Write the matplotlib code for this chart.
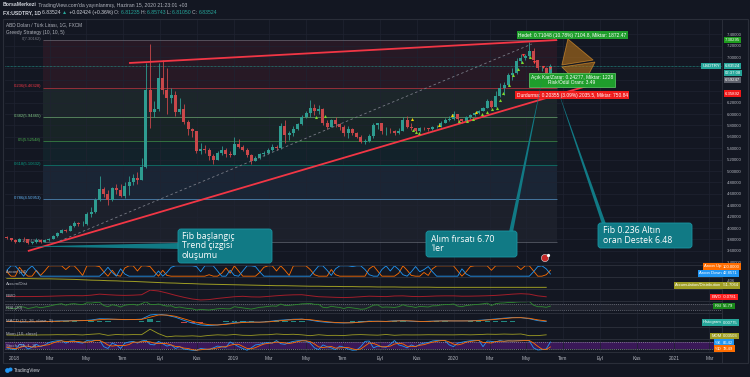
import numpy as np
import pandas as pd
import matplotlib
matplotlib.use("Agg")
import matplotlib.pyplot as plt
import matplotlib.dates as mdates
import matplotlib.transforms as mtransforms
from matplotlib.patches import Polygon, Rectangle, FancyBboxPatch, Circle

# ---------------- data ----------------
week_start = "2017-12-20"     # weekly candles (centre of each week)
open_first = 3.84
close = [3.82, 3.79, 3.76, 3.81, 3.80, 3.74, 3.76, 3.79, 3.76, 3.79,
         3.81, 3.86, 3.92, 3.97, 3.95, 4.03, 4.08, 4.07, 4.07, 4.25,
         4.28, 4.50, 4.68, 4.59, 4.50, 4.70, 4.67, 4.56, 4.74, 4.80,
         4.88, 4.84, 5.07, 6.43, 6.03, 6.08, 6.63, 6.42, 6.28, 6.33,
         6.04, 6.08, 5.86, 5.73, 5.70, 5.35, 5.39, 5.36, 5.27, 5.20,
         5.31, 5.36, 5.30, 5.28, 5.47, 5.42, 5.37, 5.28, 5.18, 5.22,
         5.30, 5.32, 5.37, 5.43, 5.40, 5.79, 5.64, 5.66, 5.74, 5.82,
         5.95, 6.02, 6.10, 6.05, 6.08, 5.84, 5.78, 5.90, 5.82, 5.78,
         5.66, 5.74, 5.67, 5.60, 5.51, 5.52, 5.61, 5.80, 5.84, 5.70,
         5.71, 5.70, 5.67, 5.71, 5.90, 5.78, 5.75, 5.70, 5.76, 5.75,
         5.73, 5.78, 5.78, 5.85, 5.90, 5.92, 6.00, 5.91, 5.88, 5.94,
         5.98, 6.02, 6.06, 6.11, 6.23, 6.13, 6.32, 6.45, 6.51, 6.69,
         6.72, 6.93, 6.99, 7.02, 7.11, 6.95, 6.80, 6.80, 6.72, 6.835]
high = [3.86, 3.83, 3.80, 3.82, 3.84, 3.81, 3.78, 3.82, 3.80, 3.80,
        3.82, 3.88, 3.93, 3.98, 3.99, 4.06, 4.12, 4.11, 4.12, 4.28,
        4.36, 4.52, 4.92, 4.72, 4.66, 4.72, 4.78, 4.78, 4.80, 4.92,
        4.95, 4.98, 5.22, 6.90, 7.22, 6.23, 6.90, 6.95, 6.80, 6.46,
        6.40, 6.28, 6.17, 5.90, 5.76, 5.60, 5.50, 5.45, 5.40, 5.30,
        5.35, 5.44, 5.40, 5.35, 5.60, 5.57, 5.45, 5.40, 5.30, 5.27,
        5.32, 5.35, 5.40, 5.47, 5.46, 5.84, 5.90, 5.70, 5.79, 5.85,
        5.98, 6.05, 6.24, 6.18, 6.15, 6.10, 5.90, 5.92, 5.95, 5.84,
        5.80, 5.79, 5.75, 5.68, 5.63, 5.56, 5.65, 5.85, 5.85, 5.83,
        5.77, 5.76, 5.72, 5.76, 5.94, 5.96, 5.85, 5.76, 5.78, 5.78,
        5.76, 5.79, 5.80, 5.88, 5.93, 5.96, 6.05, 5.98, 5.92, 5.96,
        6.00, 6.04, 6.07, 6.13, 6.27, 6.24, 6.40, 6.55, 6.56, 6.72,
        6.80, 6.98, 7.05, 7.06, 7.27, 7.15, 6.95, 6.84, 6.83, 6.87]
low = [3.80, 3.78, 3.74, 3.75, 3.78, 3.72, 3.72, 3.74, 3.74, 3.75,
       3.78, 3.80, 3.85, 3.91, 3.93, 3.95, 4.02, 4.03, 4.04, 4.06,
       4.20, 4.27, 4.48, 4.55, 4.40, 4.47, 4.60, 4.55, 4.53, 4.58,
       4.75, 4.77, 4.90, 5.05, 5.76, 5.95, 6.05, 6.35, 6.00, 6.20,
       5.97, 6.00, 5.82, 5.64, 5.60, 5.31, 5.30, 5.31, 5.20, 5.13,
       5.19, 5.28, 5.25, 5.24, 5.28, 5.40, 5.35, 5.25, 5.13, 5.18,
       5.21, 5.26, 5.30, 5.35, 5.36, 5.38, 5.50, 5.55, 5.62, 5.72,
       5.80, 5.93, 5.95, 5.98, 6.00, 5.80, 5.74, 5.78, 5.78, 5.72,
       5.62, 5.58, 5.63, 5.58, 5.49, 5.48, 5.51, 5.58, 5.73, 5.65,
       5.63, 5.66, 5.64, 5.65, 5.70, 5.75, 5.72, 5.68, 5.69, 5.72,
       5.70, 5.72, 5.75, 5.78, 5.84, 5.88, 5.90, 5.85, 5.85, 5.86,
       5.92, 5.96, 6.00, 6.05, 6.10, 6.10, 6.12, 6.30, 6.34, 6.50,
       6.60, 6.70, 6.90, 6.95, 6.98, 6.90, 6.78, 6.75, 6.70, 6.70]

# weekly indicators
aroon_up = [43, 0, 0, 86, 36, 0, 0, 57, 7, 50,
            100, 100, 100, 100, 64, 100, 100, 57, 7, 100,
            100, 100, 93, 43, 0, 57, 7, 0, 79, 100,
            100, 50, 100, 100, 93, 43, 0, 57, 7, 0,
            0, 0, 0, 0, 0, 0, 0, 0, 14, 0,
            0, 29, 79, 29, 100, 50, 0, 0, 0, 0,
            36, 86, 100, 100, 50, 100, 57, 7, 100, 100,
            100, 100, 64, 14, 0, 0, 0, 64, 14, 0,
            0, 0, 0, 0, 0, 0, 71, 100, 50, 0,
            0, 0, 0, 29, 100, 57, 7, 0, 0, 36,
            7, 71, 100, 100, 100, 100, 100, 50, 0, 43,
            93, 100, 100, 100, 100, 57, 100, 100, 100, 100,
            100, 100, 64, 100, 100, 50, 0, 0, 14, 57]
aroon_down = [57, 100, 100, 50, 0, 64, 100, 50, 0, 0,
              0, 0, 0, 0, 0, 0, 0, 0, 0, 0,
              0, 0, 0, 36, 86, 36, 0, 71, 21, 0,
              0, 0, 0, 0, 0, 0, 50, 0, 36, 86,
              100, 100, 100, 100, 100, 93, 43, 100, 100, 100,
              50, 0, 0, 57, 7, 0, 50, 100, 100, 93,
              43, 0, 0, 0, 0, 0, 0, 0, 0, 0,
              0, 0, 0, 50, 100, 100, 57, 7, 71, 100,
              100, 100, 93, 100, 100, 64, 14, 0, 0, 64,
              100, 50, 100, 64, 14, 0, 43, 93, 43, 64,
              93, 43, 0, 0, 0, 0, 0, 0, 71, 21,
              0, 0, 0, 0, 0, 0, 0, 0, 0, 0,
              0, 0, 0, 0, 0, 43, 93, 100, 71, 21]
rsi = [45, 40, 38, 52, 50, 40, 45, 52, 45, 50,
       55, 62, 68, 72, 62, 70, 72, 68, 66, 78,
       76, 80, 82, 60, 52, 65, 60, 50, 62, 66,
       68, 62, 72, 85, 68, 66, 70, 62, 56, 58,
       46, 50, 44, 40, 38, 30, 34, 32, 30, 34,
       38, 40, 38, 38, 52, 48, 44, 40, 36, 42,
       48, 50, 54, 57, 55, 70, 60, 61, 64, 67,
       71, 72, 74, 68, 68, 48, 45, 55, 50, 47,
       40, 48, 44, 40, 35, 37, 48, 62, 64, 48,
       50, 49, 47, 52, 65, 56, 53, 47, 54, 52,
       50, 58, 58, 64, 66, 67, 70, 56, 52, 60,
       63, 66, 68, 71, 76, 60, 72, 76, 77, 80,
       80, 83, 84, 84, 86, 62, 52, 52, 48, 56]
stoch_k = [30, 20, 15, 60, 55, 20, 35, 60, 40, 55,
           75, 85, 90, 92, 70, 88, 90, 75, 70, 92,
           88, 95, 96, 40, 25, 70, 55, 25, 70, 80,
           85, 70, 88, 95, 60, 55, 85, 65, 45, 55,
           25, 40, 20, 15, 10, 8, 25, 20, 15, 30,
           45, 40, 35, 80, 60, 40, 25, 10, 30, 55,
           60, 70, 75, 70, 92, 65, 60, 75, 85, 90,
           92, 88, 70, 30, 15, 55, 40, 30, 15, 45,
           35, 20, 10, 12, 40, 85, 88, 30, 45, 40,
           35, 60, 92, 55, 45, 30, 55, 40, 60, 70,
           75, 88, 92, 94, 90, 55, 40, 70, 78, 85,
           90, 93, 95, 40, 88, 85, 80, 92, 85, 90,
           88, 90, 92, 95, 88, 30, 12, 15, 20, 80]
stoch_d = [35, 28, 22, 32, 43, 45, 37, 38, 45, 52,
           57, 72, 83, 89, 84, 83, 83, 84, 78, 79,
           83, 92, 93, 77, 54, 45, 50, 50, 50, 58,
           78, 78, 81, 84, 81, 70, 67, 68, 65, 55,
           42, 40, 28, 25, 15, 11, 14, 18, 20, 22,
           30, 38, 40, 52, 60, 60, 42, 25, 22, 32,
           48, 62, 68, 72, 79, 76, 72, 67, 73, 83,
           89, 90, 83, 63, 38, 33, 37, 42, 28, 30,
           32, 33, 22, 14, 21, 46, 71, 68, 54, 38,
           40, 45, 62, 69, 64, 43, 43, 42, 52, 57,
           68, 78, 85, 91, 92, 80, 62, 55, 63, 78,
           84, 89, 93, 76, 74, 71, 84, 86, 86, 89,
           88, 89, 90, 92, 92, 71, 43, 19, 16, 38]

# two-weekly indicators
ewo = [0.00, -0.03, -0.02, -0.02, 0.00, 0.03, 0.08, 0.12, 0.14, 0.12,
       0.22, 0.40, 0.30, 0.22, 0.18, 0.22, 0.30, 1.10, 0.95, 0.60,
       0.20, -0.15, -0.45, -0.62, -0.55, -0.35, -0.20, -0.05, 0.02, -0.08,
       -0.10, 0.00, 0.12, 0.22, 0.28, 0.30, 0.12, -0.05, -0.10, -0.16,
       -0.20, -0.15, -0.05, 0.04, 0.00, -0.03, 0.08, 0.10, 0.00, -0.03,
       0.02, 0.08, 0.10, 0.10, 0.04, 0.05, 0.08, 0.12, 0.18, 0.28,
       0.40, 0.48, 0.40, 0.10, -0.06]
macd = [0.00, -0.01, -0.02, -0.01, 0.00, 0.01, 0.04, 0.05, 0.06, 0.06,
        0.10, 0.18, 0.17, 0.14, 0.12, 0.13, 0.16, 0.42, 0.48, 0.40,
        0.28, 0.08, -0.10, -0.22, -0.26, -0.22, -0.15, -0.07, -0.03, -0.03,
        -0.04, 0.00, 0.07, 0.11, 0.15, 0.16, 0.09, 0.00, -0.05, -0.08,
        -0.09, -0.07, -0.02, 0.03, 0.02, 0.01, 0.05, 0.06, 0.02, 0.00,
        0.02, 0.04, 0.05, 0.04, 0.04, 0.05, 0.08, 0.12, 0.17, 0.22,
        0.26, 0.25, 0.18, 0.06, 0.00]
macd_signal = [0.00, 0.00, -0.01, -0.01, -0.01, 0.00, 0.02, 0.03, 0.05, 0.06,
               0.07, 0.12, 0.15, 0.15, 0.13, 0.13, 0.14, 0.28, 0.42, 0.42,
               0.34, 0.18, 0.02, -0.12, -0.20, -0.22, -0.18, -0.11, -0.06, -0.04,
               -0.04, -0.02, 0.03, 0.08, 0.12, 0.15, 0.12, 0.05, -0.01, -0.06,
               -0.08, -0.08, -0.04, 0.00, 0.02, 0.01, 0.03, 0.05, 0.04, 0.01,
               0.01, 0.03, 0.04, 0.04, 0.04, 0.04, 0.06, 0.10, 0.14, 0.19,
               0.24, 0.25, 0.21, 0.11, 0.04]
mom = [0.00, -0.05, 0.02, -0.04, 0.03, 0.04, 0.10, 0.06, 0.12, 0.02,
       0.22, 0.38, -0.10, 0.15, 0.05, 0.12, 0.10, 1.75, 0.40, -0.55,
       -0.30, -0.35, -0.25, -0.40, -0.12, 0.05, -0.05, 0.15, -0.08, -0.12,
       0.05, 0.08, 0.30, 0.15, 0.22, 0.05, -0.20, 0.08, -0.12, -0.10,
       -0.15, 0.05, 0.12, 0.02, -0.05, 0.15, -0.08, 0.04, 0.02, 0.03,
       0.08, 0.06, 0.05, 0.04, 0.10, 0.05, 0.12, 0.25, 0.20, 0.28,
       0.22, 0.30, -0.20, -0.18, 0.05]
accdist = [-2, -3, -3, -4, -5, -5, -6, -7, -8, -10,
           -12, -13, -15, -16, -18, -19, -21, -23, -25, -27,
           -28, -30, -31, -33, -34, -35, -36, -37, -38, -39,
           -40, -41, -42, -42, -43, -44, -45, -45, -46, -46,
           -47, -47, -48, -48, -49, -49, -49, -50, -50, -50,
           -50, -51, -51, -51, -51, -51, -51, -51, -51, -51,
           -51, -51, -51, -51, -51]

# drawings on the price chart
fib_ratios = [0, 0.236, 0.382, 0.5, 0.618, 0.786, 1]
fib_prices = [7.30162, 6.46328, 5.94465, 5.52548, 5.10632, 4.50953, 3.74934]
fib_colors = ["#787b86", "#f23645", "#81c784", "#4caf50", "#089981", "#64b5f6", "#787b86"]
fib_span = ["2018-02-18", "2020-06-21"]
upper_tl = (["2018-07-11", "2020-06-21"], [6.895, 7.298])
lower_tl = (["2018-01-24", "2020-08-26"], [3.596, 6.542])
dash_tl = (["2018-03-18", "2020-05-10"], [3.772, 7.228])
tri_a = (["2020-07-09", "2020-08-20", "2020-06-29"], [7.316, 6.947, 6.86])
tri_b = (["2020-06-29", "2020-08-23", "2020-08-02"], [6.825, 6.912, 6.474])
long_dates = ["2019-05-18", "2019-06-02", "2019-10-26", "2019-10-31", "2019-11-05",
              "2020-01-10", "2020-01-23", "2020-02-03", "2020-02-17", "2020-02-25",
              "2020-03-05", "2020-03-13", "2020-03-18", "2020-03-23", "2020-04-02",
              "2020-04-09", "2020-04-17", "2020-04-24", "2020-05-07"]
long_prices = [5.95, 5.96, 5.72, 5.68, 5.67, 5.88, 5.88, 5.91, 6.00, 6.04,
               6.09, 6.11, 6.25, 6.37, 6.51, 6.68, 6.79, 6.91, 7.00]
warn_dates = ["2019-10-24", "2019-12-08", "2019-12-29", "2020-02-08"]
warn_prices = [5.91, 5.80, 5.99, 6.03]
short_dates = ["2020-04-25", "2020-05-14", "2020-05-29", "2020-06-10"]
short_prices = [7.035, 6.91, 6.82, 6.81]

price_ticks = [3.4, 3.6, 3.8, 4.0, 4.2, 4.4, 4.6, 4.8, 5.0, 5.2, 5.4, 5.6,
               5.8, 6.0, 6.2, 6.4, 6.6, 6.8, 7.0, 7.2, 7.4]
hidden_ticks = [6.4, 6.6, 6.8]   # covered by the price tags
month_ticks = ["2018-01-01", "2018-03-01", "2018-05-01", "2018-07-01", "2018-09-01",
               "2018-11-01", "2019-01-01", "2019-03-01", "2019-05-01", "2019-07-01",
               "2019-09-01", "2019-11-01", "2020-01-01", "2020-03-01", "2020-05-01",
               "2020-07-01", "2020-09-01", "2020-11-01", "2021-01-01", "2021-03-01"]
month_labels = ["2018", "Mar", "May", "Tem", "Eyl", "Kas", "2019", "Mar", "May", "Tem",
                "Eyl", "Kas", "2020", "Mar", "May", "Tem", "Eyl", "Kas", "2021", "Mar"]

# ---------------- style ----------------
BG = "#131722"
GRID = "#1f2331"
TXT = "#b2b5be"
UP = "#2e9c90"
DN = "#c9474a"
CALL = "#117a85"
plt.rcParams["font.family"] = ["Liberation Sans", "DejaVu Sans"]

W, H = 750, 377
fig = plt.figure(figsize=(7.5, 3.77), dpi=100, facecolor=BG)


def px_axes(x0, y0, x1, y1):
    ax = fig.add_axes([x0 / W, 1 - y1 / H, (x1 - x0) / W, (y1 - y0) / H])
    ax.set_facecolor(BG)
    for s in ["left", "bottom"]:
        ax.spines[s].set_visible(False)
    for s in ["top", "right"]:
        ax.spines[s].set_color("#2a2e39")
        ax.spines[s].set_linewidth(0.7)
    return ax


dn = mdates.datestr2num
xmin, xmax = dn("2017-12-17"), dn("2021-03-22")
mt = [dn(d) for d in month_ticks]

main = px_axes(5, 19, 722, 265)
panes = [px_axes(5, a, 722, b) for a, b in
         [(265, 277), (277, 289), (289, 301), (301, 313), (313, 327), (327, 339), (339, 352)]]
for ax in [main] + panes:
    ax.set_xlim(xmin, xmax)
    ax.set_xticks(mt)
    ax.grid(axis="x", color=GRID, lw=0.5)
    ax.tick_params(axis="x", length=0, labelbottom=False)
    ax.tick_params(axis="y", length=0, labelleft=False)
    ax.set_yticks([])

# ---------------- main price pane ----------------
main.set_ylim(3.351, 7.667)
main.set_yticks(price_ticks)
main.set_yticklabels(["" if v in hidden_ticks else f"{v:.5f}" for v in price_ticks])
main.yaxis.tick_right()
main.tick_params(axis="y", length=0, pad=3.5, labelsize=3.1, labelcolor=TXT, labelright=True)
main.grid(axis="y", color=GRID, lw=0.5)

wk = mdates.date2num(pd.date_range(week_start, periods=len(close), freq="7D").to_pydatetime())
c = np.array(close)
o = np.r_[open_first, c[:-1]]
hi = np.maximum(np.array(high), np.maximum(o, c))
lo = np.minimum(np.array(low), np.minimum(o, c))
col = np.where(c >= o, UP, DN)
main.vlines(wk, lo, hi, colors=col, lw=0.6, zorder=4)
main.bar(wk, c - o, bottom=o, width=5, color=col, lw=0, zorder=4)

# fibonacci retracement
fx0, fx1 = dn(fib_span[0]), dn(fib_span[1])
for i, (r, p, fc) in enumerate(zip(fib_ratios, fib_prices, fib_colors)):
    main.hlines(p, fx0, fx1, color=fc, lw=0.6, alpha=0.65, zorder=2)
    main.text(fx0 - 3, p + 0.02, f"{r}({p:.5f})", color=fc, fontsize=3.0,
              ha="right", va="center", zorder=3)
    if i > 0:
        main.fill_between([fx0, fx1], fib_prices[i - 1], p, color=fc, alpha=0.09, lw=0, zorder=1)

main.axhline(close[-1], color="#26a69a", lw=0.5, ls=(0, (1, 1)), zorder=3)

for (ds, ps), kw in [(upper_tl, dict(color="#f23645", lw=1.3)),
                     (lower_tl, dict(color="#f23645", lw=1.3)),
                     (dash_tl, dict(color="#787b86", lw=0.6, ls=(0, (3, 3))))]:
    main.plot([dn(d) for d in ds], ps, zorder=5, solid_capstyle="butt", **kw)

for ds, ps in [tri_a, tri_b]:
    main.add_patch(Polygon(list(zip([dn(d) for d in ds], ps)), closed=True,
                           fc="#b8741a", alpha=0.6, ec="#f0a030", lw=0.6, zorder=5))

main.plot([dn(d) for d in long_dates], long_prices, ls="none", marker="^", ms=2.2,
          color="#7cd62b", mec="none", zorder=6)
main.plot([dn(d) for d in warn_dates], warn_prices, ls="none", marker="^", ms=2.2,
          color="#f5d000", mec="none", zorder=6)
main.plot([dn(d) for d in short_dates], short_prices, ls="none", marker="v", ms=2.2,
          color="#ff4040", mec="none", zorder=6)

# position tool labels
pos_x = dn("2020-07-16")
main.text(pos_x, 7.386, "Hedef: 0.71048 (10.78%) 7104.8, Miktar: 1872.47", fontsize=3.5,
          color="white", ha="center", va="center", zorder=8,
          bbox=dict(boxstyle="square,pad=0.3", fc="#1f9e2c", ec="none"))
main.text(pos_x, 6.596, "Açık Kar/Zarar: 0.24277, Miktar: 1228\nRisk/Ödül Oranı: 3.49",
          fontsize=3.5, color="white", ha="center", va="center", zorder=8, linespacing=1.1,
          bbox=dict(boxstyle="square,pad=0.35", fc="#1f9e2c", ec="#5fd36a", lw=0.5))
main.text(pos_x, 6.333, "Durdurma: 0.20355 (3.09%) 2035.5, Miktar: 750.84", fontsize=3.5,
          color="white", ha="center", va="center", zorder=8,
          bbox=dict(boxstyle="square,pad=0.3", fc="#ee1c1c", ec="none"))

# price scale tags
tr = mtransforms.blended_transform_factory(main.transAxes, main.transData)
for val, txt, fc in [(7.30295, "7.30295", "#1e9e1e"), (6.83524, "6.83524", "#26a69a"),
                     (6.722, "02:37:08", "#26a69a"), (6.59247, "6.59247", "#5d606b"),
                     (6.35892, "6.35892", "#f01818")]:
    main.text(1.004, val, txt, transform=tr, fontsize=3.1, color="white", ha="left",
              va="center", clip_on=False, zorder=10,
              bbox=dict(boxstyle="square,pad=0.25", fc=fc, ec="none"))
main.text(0.997, 6.83524, "USDTRY", transform=tr, fontsize=3.1, color="white", ha="right",
          va="center", clip_on=False, zorder=10,
          bbox=dict(boxstyle="square,pad=0.25", fc="#26a69a", ec="none"))

main.text(0.0015, 0.985, "ABD Doları / Türk Lirası, 1G, FXCM", transform=main.transAxes,
          fontsize=3.4, color=TXT, va="top")
main.text(0.0015, 0.955, "Greedy Strategy (10, 10, 5)", transform=main.transAxes,
          fontsize=3.4, color=TXT, va="top")

# ---------------- indicator panes ----------------
ax_ar, ax_ad, ax_ewo, ax_rsi, ax_macd, ax_mom, ax_st = panes
bw = wk[::2]

ax_ar.set_ylim(-8, 108)
ax_ar.plot(wk, aroon_up, color="#ff6d00", lw=0.6)
ax_ar.plot(wk, aroon_down, color="#2196f3", lw=0.6)

ax_ad.set_ylim(-60, 5)
ax_ad.plot(bw, accdist, color="#9e9d24", lw=0.7)

ax_ewo.set_ylim(-0.8, 1.3)
ax_ewo.plot(bw, ewo, color="#a31e2a", lw=0.7)

ax_rsi.set_ylim(10, 90)
ax_rsi.axhspan(30, 70, color="#787b86", alpha=0.13, lw=0)
for lvl in (30, 70):
    ax_rsi.axhline(lvl, color="#787b86", lw=0.5, ls=(0, (1.5, 1.5)))
ax_rsi.plot(wk, rsi, color="#2e8b2e", lw=0.6)

ax_macd.set_ylim(-0.35, 0.55)
hist = np.array(macd) - np.array(macd_signal)
ax_macd.bar(bw, hist, width=9, color=np.where(hist >= 0, "#26a69a", "#ef5350"), alpha=0.8, lw=0)
ax_macd.plot(bw, macd, color="#2196f3", lw=0.6)
ax_macd.plot(bw, macd_signal, color="#ff6d00", lw=0.6)

ax_mom.set_ylim(-1.2, 2.4)
ax_mom.plot(bw, mom, color="#9e9d24", lw=0.6)

ax_st.set_ylim(-5, 105)
ax_st.axhspan(20, 80, color="#6a1b9a", alpha=0.45, lw=0)
for lvl in (20, 80):
    ax_st.axhline(lvl, color="#9598a1", lw=0.5, ls=(0, (1.5, 1.5)))
ax_st.plot(wk, stoch_k, color="#2196f3", lw=0.6)
ax_st.plot(wk, stoch_d, color="#ff6d00", lw=0.6)
ax_st.set_xticklabels(month_labels)
ax_st.tick_params(axis="x", labelbottom=True, labelsize=3.5, labelcolor=TXT, pad=3)

for ax, name in zip(panes, ["Aroon (14)", "Accum/Dist", "EWO", "RSI (20)",
                            "MACD (12, 26, close, 9)", "Mom (10, close)", "Stoch (14, 1, 3)"]):
    ax.text(0.0015, 0.45, name, transform=ax.transAxes, fontsize=3.2, color=TXT,
            va="center", zorder=6)

# ---------------- overlay: header, callouts, tags ----------------
ov = fig.add_axes([0, 0, 1, 1], zorder=20)
ov.set_xlim(0, W)
ov.set_ylim(H, 0)
ov.axis("off")
ov.patch.set_alpha(0)


def seq_text(x, y, parts, fs=3.7):
    prev = None
    for s, colr, bold in parts:
        kw = dict(fontsize=fs, color=colr, fontweight="bold" if bold else "normal",
                  va="center", ha="left")
        if prev is None:
            prev = ov.text(x, y, s, **kw)
        else:
            prev = ov.annotate(s, xy=(1, 0.5), xycoords=prev, **kw)


seq_text(3, 5, [("BorsaMerkezi", "#d1d4dc", True),
                (" TradingView.com'da yayınlanmış, Haziran 15, 2020 21:23:01 +03", "#b2b5be", False)])
seq_text(3, 12.5, [("FX:USDTRY, 1D ", "#d1d4dc", True), ("6.83524 ", "#d1d4dc", False),
                   ("▲", "#26a69a", False), (" +0.02424 (+0.36%) ", "#d1d4dc", False),
                   ("O: ", "#b2b5be", False), ("6.81235 ", "#26a69a", False),
                   ("H: ", "#b2b5be", False), ("6.85743 ", "#26a69a", False),
                   ("L: ", "#b2b5be", False), ("6.81050 ", "#26a69a", False),
                   ("C: ", "#b2b5be", False), ("6.83524", "#26a69a", False)])


def callout(x0, y0, x1, y1, text, tip, base, tx):
    ov.add_patch(Polygon([base[0], base[1], tip], closed=True, fc=CALL, ec="none", zorder=5))
    ov.add_patch(FancyBboxPatch((x0, y0), x1 - x0, y1 - y0,
                                boxstyle="round,pad=0,rounding_size=3",
                                fc=CALL, ec="#1a95a2", lw=0.6, zorder=6))
    ov.text(tx, (y0 + y1) / 2, text, fontsize=6.3, color="white", va="center", ha="left",
            linespacing=1.05, family=["Open Sans", "DejaVu Sans"], zorder=7)


callout(178, 229, 272, 263, "Fib başlangıç\nTrend çizgisi\noluşumu",
        (26, 246.5), [(179, 243), (179, 249)], 182)
callout(426, 231, 517, 257, "Alım fırsatı 6.70\n'ler",
        (542, 80), [(509, 232), (513, 232)], 431)
callout(598, 223, 692, 248, "Fib 0.236 Altın\noran Destek 6.48",
        (556, 85), [(602, 224), (606, 224)], 603)

# event flag
ov.add_patch(Circle((545, 258), 3.6, fc="#c62828", ec="#e0e0e0", lw=0.4, zorder=8))
ov.add_patch(Circle((548.5, 255.5), 1.6, fc="white", ec="none", zorder=9))


def tag(x, y, text, fc, ha):
    ov.text(x, y, text, fontsize=3.0, color="white", ha=ha, va="center", zorder=10,
            bbox=dict(boxstyle="square,pad=0.3", fc=fc, ec="none"))


for name, val, fc, y in [("Aroon Up", "100.0000", "#ff6d00", 266.5),
                         ("Aroon Down", "42.8571", "#2196f3", 273.5),
                         ("Accumulation/Distribution", "-51.7064", "#9e9d24", 285.5),
                         ("EWO", "-0.0781", "#ff1f1f", 297),
                         ("RSI", "56.79", "#1b8a1b", 306),
                         ("Histogram", "0.00775", "#26a69a", 322.5),
                         ("MOM", "0.03503", "#9e9d24", 336),
                         ("%K", "86.42", "#2196f3", 342.5),
                         ("%D", "78.49", "#ff6d00", 348.5)]:
    tag(721.5, y, name, fc, "right")
    tag(723, y, val, fc, "left")
ov.text(727, 281, "-406", fontsize=3.0, color=TXT, va="center")

# frame, axis lines, logo
ov.add_patch(Rectangle((3, 19), 745, 344, fill=False, ec="#2a2e39", lw=0.8))
ov.plot([3, 722], [352, 352], color="#2a2e39", lw=0.7)
ov.plot([722, 722], [19, 363], color="#2a2e39", lw=0.7)
ov.add_patch(Circle((7.5, 370.5), 2.4, fc="#2196f3", ec="none"))
ov.add_patch(Circle((10.5, 369.5), 2.0, fc="#2196f3", ec="none"))
ov.text(14, 370.5, "TradingView", fontsize=3.4, color="#d1d4dc", va="center")

fig.savefig("out.png", dpi=100, facecolor=BG)
